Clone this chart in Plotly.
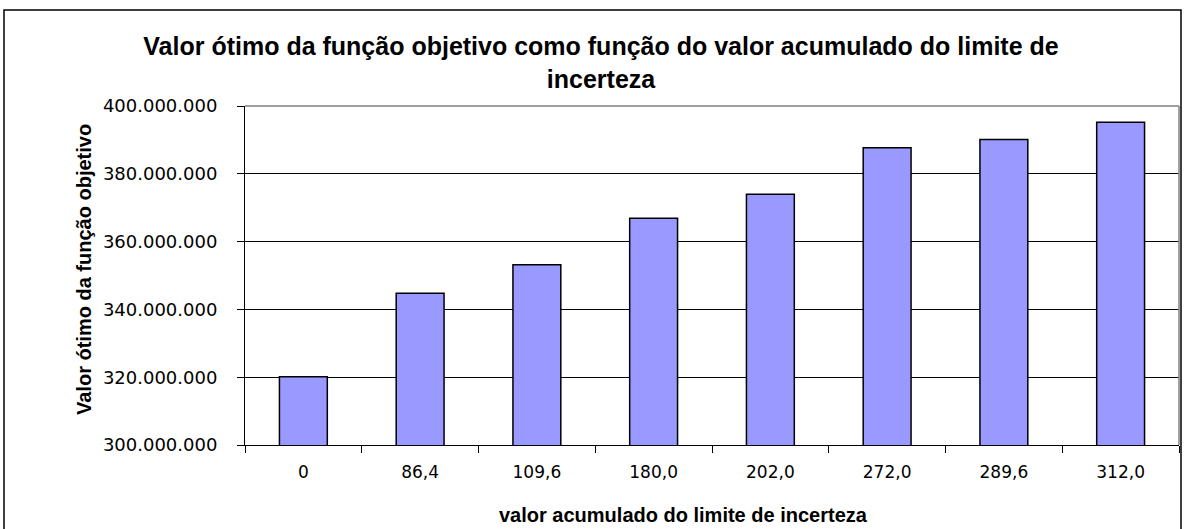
import plotly.graph_objects as go

categories = ["0", "86,4", "109,6", "180,0", "202,0", "272,0", "289,6", "312,0"]
values = [320150000, 344800000, 353200000, 366900000, 374000000, 387700000, 390100000, 395200000]

title_text = "Valor ótimo da função objetivo como função do valor acumulado do limite de<br>incerteza"
x_title = "valor acumulado do limite de incerteza"
y_title = "Valor ótimo da função objetivo"

W, H = 1185, 529
L, R, T, B = 245, 6, 106, 84
pw, ph = W - L - R, H - T - B

def px(x):
    return (x - L) / pw

def py(y):
    return (H - B - y) / ph

fig = go.Figure()
fig.add_trace(go.Bar(
    x=categories, y=values,
    marker=dict(color="#9999FF", line=dict(color="#000000", width=1.5)),
    width=0.41,
))

fig.update_layout(
    width=W, height=H, autosize=False,
    margin=dict(l=L, r=R, t=T, b=B, pad=0),
    paper_bgcolor="white", plot_bgcolor="white",
    separators=",.",
    showlegend=False,
    title=dict(text=title_text, x=px(601), xref="paper", xanchor="center",
               y=1 - 55 / H, yanchor="middle",
               font=dict(family="Liberation Sans, Arial", size=25, color="black", weight="bold")),
    font=dict(family="DejaVu Sans, Verdana", size=18, color="black"),
    bargap=0.59,
)

fig.update_xaxes(
    type="category", showgrid=False,
    showline=True, linecolor="black", linewidth=1,
    ticks="outside", ticklen=7, tickcolor="black", tickson="boundaries",
    ticklabelstandoff=12,
    tickfont=dict(family="DejaVu Sans, Verdana", size=17, color="black"),
    mirror=False,
)
fig.update_yaxes(
    range=[300000000, 400000000], dtick=20000000, tick0=300000000,
    tickformat=",.0f",
    showgrid=True, gridcolor="black", gridwidth=1,
    showline=True, linecolor="black", linewidth=1,
    ticks="outside", ticklen=7, tickcolor="black",
    ticklabelstandoff=16,
    tickfont=dict(family="DejaVu Sans, Verdana", size=18, color="black"),
    zeroline=False,
)

# plot-area border (top and right, gray)
fig.add_shape(type="line", xref="paper", yref="paper", x0=0, x1=1, y0=1, y1=1,
              line=dict(color="#808080", width=1.5))
fig.add_shape(type="line", xref="paper", yref="paper", x0=1, x1=1, y0=0, y1=1,
              line=dict(color="#808080", width=1.5))
# outer chart frame
fig.add_shape(type="rect", xref="paper", yref="paper",
              x0=px(4), x1=px(1181), y0=py(540), y1=py(10),
              line=dict(color="black", width=1.5), fillcolor="rgba(0,0,0,0)", layer="below")

fig.add_annotation(text=y_title, xref="paper", yref="paper", x=px(84), y=py(270),
                   xanchor="center", yanchor="middle", textangle=-90, showarrow=False,
                   font=dict(family="Liberation Sans, Arial", size=20, color="black", weight="bold"))
fig.add_annotation(text=x_title, xref="paper", yref="paper", x=px(683), y=py(515),
                   xanchor="center", yanchor="middle", showarrow=False,
                   font=dict(family="Liberation Sans, Arial", size=20, color="black", weight="bold"))

fig.write_html("out.html", config={"displayModeBar": False},
               post_script="document.body.style.margin='0';document.body.style.overflow='hidden';")
